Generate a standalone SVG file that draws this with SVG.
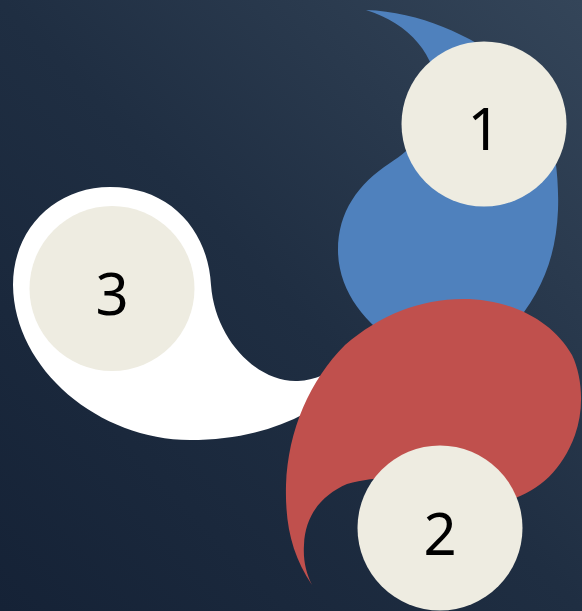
<svg xmlns="http://www.w3.org/2000/svg" width="582" height="611" viewBox="0 0 582 611">
<defs>
<linearGradient id="bg" x1="0" y1="1" x2="1" y2="0">
<stop offset="0" stop-color="#152236"/>
<stop offset="0.5" stop-color="#1f2e42"/>
<stop offset="1" stop-color="#344559"/>
</linearGradient>
</defs>
<style>
.c{fill:#eeece1}
.t{font-family:"Noto Sans","Open Sans",sans-serif;font-size:58px;fill:#000;text-anchor:middle}
</style>
<rect width="582" height="611" fill="url(#bg)"/>
<g id="shapes">
<path id="blue" fill="#4f81bd" d="M366,10 C420,12 470,35 510,65 C545,95 560,150 558,210 C556,260 540,295 510,330 L400,345 C365,325 338,290 338,250 C338,212 358,184 390,163 C412,149 432,128 437,100 C440,60 412,24 366,10 Z"/>
<path id="white" fill="#ffffff" d="M110,187 C170,187 208,230 211,285 C215,340 258,383 298,381 C315,380 328,374 345,362 L350,380 C310,420 255,440 190,440 C100,440 14,370 13,285 C13,228 56,187 110,187 Z"/>
<path id="red" fill="#c0504d" d="M312,585 C292,555 285,525 286,485 C288,430 310,380 345,345 C380,315 420,299 463,299 C510,299 552,320 572,355 C583,378 584,410 575,435 C562,470 540,490 510,500 L400,478 C385,477 365,479 347,484 C322,495 305,515 304,545 C303,560 306,573 312,585 Z"/>
</g>
<g id="node1"><circle class="c" cx="484" cy="124" r="82.5"/><text class="t" x="484" y="150">1</text></g>
<g id="node2"><circle class="c" cx="440" cy="528" r="82.5"/><text class="t" x="440" y="555">2</text></g>
<g id="node3"><circle class="c" cx="112" cy="288.5" r="82.5"/><text class="t" x="112" y="315">3</text></g>
<g id="connectors"></g>
</svg>
